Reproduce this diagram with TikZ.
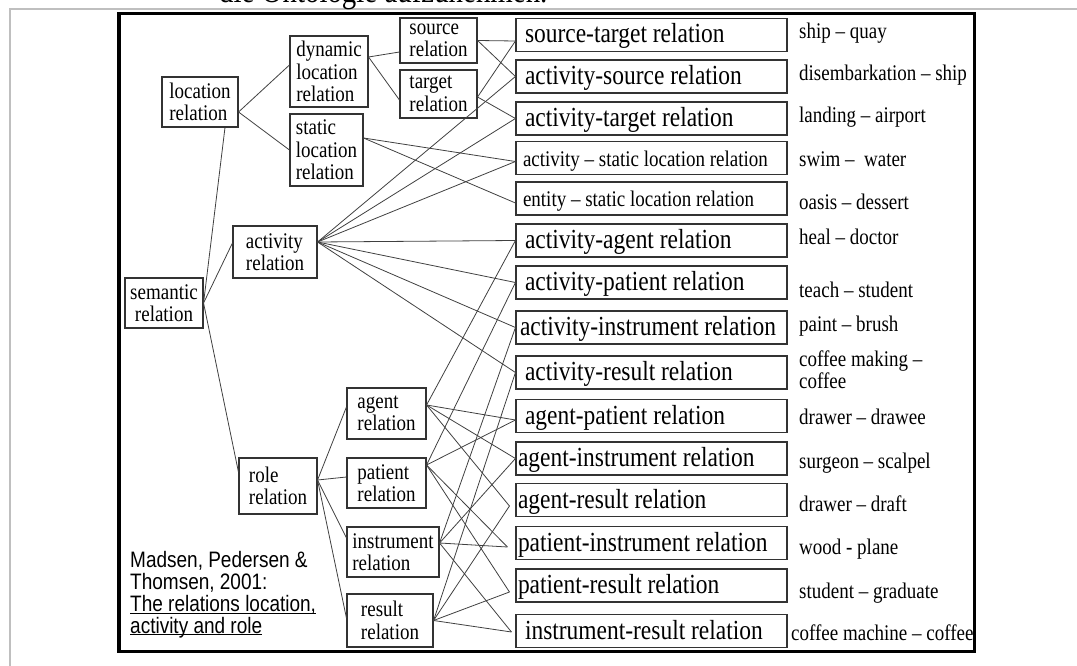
\documentclass[tikz,border=0pt]{standalone}
\usepackage{fontspec}
\setmainfont{Liberation Serif}[FakeStretch=0.85]
\newfontfamily\legendfont{Liberation Sans}[FakeStretch=0.85]

\begin{document}
\begin{tikzpicture}[x=1pt,y=-1pt,
  box/.style={draw=black!80,line width=1.1pt,inner sep=0pt,align=flush left,font=\fontsize{22.35}{22.5}\selectfont},
  relbox/.style={draw=black!80,line width=1.1pt,minimum height=33pt,inner ysep=0pt,inner xsep=9pt,text width=253pt,text height=16pt,text depth=0pt,align=flush left,font=\fontsize{27.6}{28}\selectfont},
  smallrel/.style={relbox,inner xsep=7pt,text width=257pt,text height=17pt,font=\fontsize{22.35}{22.5}\selectfont},
  widerel/.style={relbox,inner xsep=4pt,text width=263pt},
  tightrel/.style={relbox,inner xsep=2pt,text width=267pt},
  example/.style={anchor=base west,inner sep=0pt,align=flush left,font=\fontsize{22.35}{21.7}\selectfont},
  link/.style={draw=black!75,line width=0.8pt}]
\useasboundingbox (0,0) rectangle (1077,666);
\draw[gray!50,line width=2pt] (10,666) -- (10,9) -- (1077,9);
\node[anchor=base west,inner sep=0pt,font=\fontsize{34}{34}\selectfont] (head) at (219,2.7) {die Ontologie aufzunehmen.};

\node[box,align=center,minimum width=78pt,minimum height=50pt] (sem) at (164,303) {semantic\\relation};
\node[box,minimum width=76pt,minimum height=50pt] (loc) at (200,102) {location\\relation};
\node[box,minimum width=78pt,minimum height=71pt] (dyn) at (329,71.5) {dynamic\\location\\relation};
\node[box,minimum width=73pt,minimum height=72pt] (stat) at (326.5,150) {static\\location\\relation};
\node[box,minimum width=77pt,minimum height=45pt] (src) at (438.5,40.5) {source\\relation};
\node[box,minimum width=77pt,minimum height=48pt] (tgt) at (438.5,94) {target\\relation};
\node[box,minimum width=84pt,minimum height=52pt] (act) at (275,252) {activity\\relation};
\node[box,minimum width=78pt,minimum height=56pt] (role) at (278,486) {role\\relation};
\node[box,minimum width=79pt,minimum height=51pt] (agt) at (386.5,413.5) {agent\\relation};
\node[box,minimum width=79pt,minimum height=50pt] (pat) at (386.5,483) {patient\\relation};
\node[box,minimum width=92pt,minimum height=50pt] (ins) at (393,552) {instrument\\relation};
\node[box,minimum width=86pt,minimum height=53pt] (res) at (390,620.5) {result\\relation};

\node[relbox] (srctgt) at (651.5,35) {source-target relation};
\node[relbox] (actsrc) at (651.5,76.5) {activity-source relation};
\node[relbox] (acttgt) at (651.5,118.5) {activity-target relation};
\node[smallrel] (actstat) at (651.5,158) {activity – static location relation};
\node[smallrel] (entstat) at (651.5,198.5) {entity – static location relation};
\node[relbox] (actagt) at (651.5,240.5) {activity-agent relation};
\node[relbox] (actpat) at (651.5,282.5) {activity-patient relation};
\node[widerel] (actins) at (651.5,327.5) {activity-instrument relation};
\node[relbox] (actres) at (651.5,372.5) {activity-result relation};
\node[relbox] (agtpat) at (651.5,416) {agent-patient relation};
\node[tightrel] (agtins) at (651.5,458.5) {agent-instrument relation};
\node[tightrel] (agtres) at (651.5,500) {agent-result relation};
\node[tightrel] (patins) at (651.5,543) {patient-instrument relation};
\node[tightrel] (patres) at (651.5,585.5) {patient-result relation};
\node[relbox] (insres) at (651.5,631) {instrument-result relation};

\node[example] (ex1) at (799,38.3) {ship – quay};
\node[example] (ex2) at (799,80.5) {disembarkation – ship};
\node[example] (ex3) at (799,123) {landing – airport};
\node[example] (ex4) at (799,167) {swim –\ \ water};
\node[example] (ex5) at (799,210) {oasis – dessert};
\node[example] (ex6) at (799,244.5) {heal – doctor};
\node[example] (ex7) at (799,297.5) {teach – student};
\node[example] (ex8) at (799,331.5) {paint – brush};
\node[example] (ex9) at (799,388.4) {coffee making –\\coffee};
\node[example] (ex10) at (799,424.5) {drawer – drawee};
\node[example] (ex11) at (799,468.5) {surgeon – scalpel};
\node[example] (ex12) at (799,511.5) {drawer – draft};
\node[example] (ex13) at (799,554.5) {wood - plane};
\node[example] (ex14) at (799,598.5) {student – graduate};
\node[example] (ex15) at (791,640.5) {coffee machine – coffee};

\node[anchor=base west,inner sep=0pt,align=flush left,font=\legendfont\fontsize{22.35}{21.7}\selectfont] (cite) at (130,633) {Madsen, Pedersen \&\\Thomsen, 2001:\\\underline{\smash{The relations location,}}\\\underline{\smash{activity and role}}};

% tree on the left
\draw[link] (sem.east) -- ([xshift=25pt]loc.south);
\draw[link] (sem.east) -- ([yshift=9pt]act.west);
\draw[link] (sem.east) -- ([yshift=14pt]role.west);
\draw[link] ([yshift=-10pt]loc.east) -- ([yshift=6.5pt]dyn.west);
\draw[link] ([yshift=-10pt]loc.east) -- (stat.west);
\draw[link] ([yshift=14.5pt]dyn.east) -- ([yshift=-11.5pt]src.west);
\draw[link] ([yshift=14.5pt]dyn.east) -- ([yshift=-6pt]tgt.west);
\draw[link] ([yshift=6pt]role.east) -- ([yshift=6.5pt]agt.west);
\draw[link] ([yshift=6pt]role.east) -- ([yshift=6pt]pat.west);
\draw[link] ([yshift=6pt]role.east) -- ([yshift=14pt]ins.west);
\draw[link] ([yshift=6pt]role.east) -- ([yshift=2.5pt]res.west);

% location relations
\draw[link] (src.east) -- ([yshift=-6pt]srctgt.west);
\draw[link] (src.east) -- (actsrc.west);
\draw[link] ([yshift=-3pt]tgt.east) -- ([yshift=-6pt]srctgt.west);
\draw[link] ([yshift=-3pt]tgt.east) -- (acttgt.west);
\draw[link] ([yshift=12pt]stat.east) -- ([yshift=-3.5pt]actstat.west);
\draw[link] ([yshift=12pt]stat.east) -- ([yshift=-4.5pt]entstat.west);

% activity relations
\draw[link] ([yshift=10pt]act.east) -- (actsrc.west);
\draw[link] ([yshift=10pt]act.east) -- (acttgt.west);
\draw[link] ([yshift=10pt]act.east) -- ([yshift=-3.5pt]actstat.west);
\draw[link] ([yshift=10pt]act.east) -- (actagt.west);
\draw[link] ([yshift=10pt]act.east) -- (actpat.west);
\draw[link] ([yshift=10pt]act.east) -- (actins.west);
\draw[link] ([yshift=10pt]act.east) -- (actres.west);

% role relations
\draw[link] ([yshift=8.5pt]agt.east) -- (actagt.west);
\draw[link] ([yshift=8.5pt]agt.east) -- ([yshift=-4pt]agtpat.west);
\draw[link] ([yshift=8.5pt]agt.east) -- (agtins.west);
\draw[link] ([yshift=8.5pt]agt.east) -- ([xshift=-6pt,yshift=-6pt]agtres.west);
\draw[link] ([yshift=18pt]pat.east) -- (actpat.west);
\draw[link] ([yshift=18pt]pat.east) -- ([yshift=-4pt]agtpat.west);
\draw[link] ([yshift=18pt]pat.east) -- ([xshift=-8pt,yshift=-4pt]patins.west);
\draw[link] ([yshift=18pt]pat.east) -- ([xshift=-6pt,yshift=-6.5pt]patres.west);
\draw[link] ([yshift=9pt]ins.east) -- (actins.west);
\draw[link] ([yshift=9pt]ins.east) -- (agtins.west);
\draw[link] ([yshift=9pt]ins.east) -- ([xshift=-8pt,yshift=-4pt]patins.west);
\draw[link] ([yshift=9pt]ins.east) -- ([xshift=-4pt,yshift=-1pt]insres.west);
\draw[link] (res.east) -- (actres.west);
\draw[link] (res.east) -- ([xshift=-6pt,yshift=-6pt]agtres.west);
\draw[link] (res.east) -- ([xshift=-6pt,yshift=-6.5pt]patres.west);
\draw[link] (res.east) -- ([xshift=-4pt,yshift=-1pt]insres.west);

\draw[line width=3.3pt] (119,13.5) rectangle (974.5,651.5);
\end{tikzpicture}
\end{document}
